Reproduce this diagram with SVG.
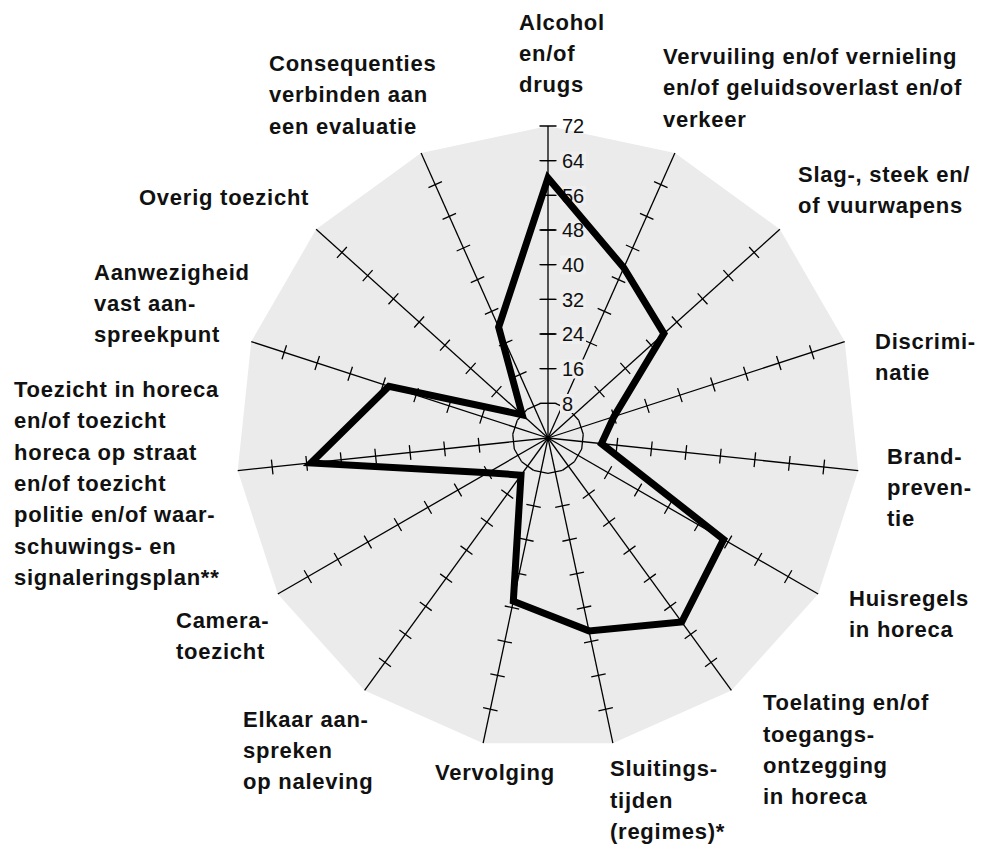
<svg xmlns="http://www.w3.org/2000/svg" xmlns:xlink="http://www.w3.org/1999/xlink" width="987" height="850" viewBox="0 0 987 850">
<style>
.lbl{font-family:"Liberation Sans",Arial,sans-serif;font-weight:bold;font-size:22px;letter-spacing:0.75px;fill:#111}
.num{font-family:"Liberation Sans",Arial,sans-serif;font-size:20px;fill:#111}
.ax{stroke:#000;stroke-width:1.3;fill:none}
.numbg{fill:#efefef}
.data{fill:none;stroke:#000;stroke-width:7;stroke-linejoin:miter;stroke-miterlimit:10}
</style>
<defs>
<g id="axis">
<line class="ax" x1="548" y1="438" x2="548" y2="126"/>
<path class="ax" d="M540.63 403.33H555.37M540.63 368.67H555.37M540.63 334H555.37M540.63 299.33H555.37M540.63 264.67H555.37M540.63 230H555.37M540.63 195.33H555.37M540.63 160.67H555.37"/>
</g>
</defs>
<rect width="987" height="850" fill="#fff"/>
<polygon id="background" fill="#ebebeb" points="548,126 674.90,152.97 779.86,229.23 844.73,341.59 858.29,470.61 818.20,594 731.39,690.41 612.87,743.18 483.13,743.18 364.61,690.41 277.80,594 237.71,470.61 251.27,341.59 316.14,229.23 421.10,152.97"/>
<g id="axes">
<use xlink:href="#axis"/>
<use xlink:href="#axis" transform="rotate(24 548 438)"/>
<use xlink:href="#axis" transform="rotate(48 548 438)"/>
<use xlink:href="#axis" transform="rotate(72 548 438)"/>
<use xlink:href="#axis" transform="rotate(96 548 438)"/>
<use xlink:href="#axis" transform="rotate(120 548 438)"/>
<use xlink:href="#axis" transform="rotate(144 548 438)"/>
<use xlink:href="#axis" transform="rotate(168 548 438)"/>
<use xlink:href="#axis" transform="rotate(192 548 438)"/>
<use xlink:href="#axis" transform="rotate(216 548 438)"/>
<use xlink:href="#axis" transform="rotate(240 548 438)"/>
<use xlink:href="#axis" transform="rotate(264 548 438)"/>
<use xlink:href="#axis" transform="rotate(288 548 438)"/>
<use xlink:href="#axis" transform="rotate(312 548 438)"/>
<use xlink:href="#axis" transform="rotate(336 548 438)"/>
<path class="ax" d="M539.5 403.33H556.5M539.5 368.67H556.5M539.5 334H556.5M539.5 299.33H556.5M539.5 264.67H556.5M539.5 230H556.5M539.5 195.33H556.5M539.5 160.67H556.5M539.5 126H556.5"/>
</g>
<g id="scale">
<rect class="numbg" x="560" y="394" width="14" height="19"/>
<rect class="numbg" x="560" y="359.5" width="26" height="19"/>
<rect class="numbg" x="560" y="325" width="26" height="19"/>
<rect class="numbg" x="560" y="290" width="26" height="19"/>
<rect class="numbg" x="560" y="255.5" width="26" height="19"/>
<rect class="numbg" x="560" y="221" width="26" height="19"/>
<rect class="numbg" x="560" y="186" width="26" height="19"/>
<rect class="numbg" x="560" y="151.5" width="26" height="19"/>
<text class="num" x="562" y="410.5">8</text>
<text class="num" x="562" y="375.8">16</text>
<text class="num" x="562" y="341.2">24</text>
<text class="num" x="562" y="306.5">32</text>
<text class="num" x="562" y="271.8">40</text>
<text class="num" x="562" y="237.2">48</text>
<text class="num" x="562" y="202.5">56</text>
<text class="num" x="562" y="167.8">64</text>
<text class="num" x="562" y="133.2">72</text>
</g>
<g id="connectors">
<polygon id="data" class="data" points="548,178 623.79,267.78 663.93,333.62 613.94,416.57 601.44,443.62 723.63,539.4 681.72,622.05 588.99,630.86 513.31,601.19 521.0,475.16 487.96,472.67 310.97,462.91 388.92,386.31 522.24,414.8 498.65,327.16"/>
</g>
<g id="n-alcohol"><text class="lbl" x="519" y="29.5">Alcohol</text><text class="lbl" x="519" y="61">en/of</text><text class="lbl" x="519" y="92">drugs</text></g>
<g id="n-vervuiling"><text class="lbl" x="663" y="63.5">Vervuiling en/of vernieling</text><text class="lbl" x="663" y="95">en/of geluidsoverlast en/of</text><text class="lbl" x="663" y="126.5">verkeer</text></g>
<g id="n-slag"><text class="lbl" x="798" y="181.5">Slag-, steek en/</text><text class="lbl" x="798" y="213">of vuurwapens</text></g>
<g id="n-discriminatie"><text class="lbl" x="875" y="348.5">Discrimi-</text><text class="lbl" x="875" y="379.5">natie</text></g>
<g id="n-brandpreventie"><text class="lbl" x="887" y="463.5">Brand-</text><text class="lbl" x="887" y="495">preven-</text><text class="lbl" x="887" y="526">tie</text></g>
<g id="n-huisregels"><text class="lbl" x="849" y="606">Huisregels</text><text class="lbl" x="849" y="637">in horeca</text></g>
<g id="n-toelating"><text class="lbl" x="763" y="710">Toelating en/of</text><text class="lbl" x="763" y="741.5">toegangs-</text><text class="lbl" x="763" y="773">ontzegging</text><text class="lbl" x="763" y="804">in horeca</text></g>
<g id="n-sluitingstijden"><text class="lbl" x="610" y="776">Sluitings-</text><text class="lbl" x="610" y="807.5">tijden</text><text class="lbl" x="610" y="838.5">(regimes)*</text></g>
<g id="n-vervolging"><text class="lbl" x="435" y="780">Vervolging</text></g>
<g id="n-elkaar"><text class="lbl" x="243" y="726.5">Elkaar aan-</text><text class="lbl" x="243" y="758">spreken</text><text class="lbl" x="243" y="789">op naleving</text></g>
<g id="n-camera"><text class="lbl" x="176" y="627.5">Camera-</text><text class="lbl" x="176" y="659">toezicht</text></g>
<g id="n-toezicht"><text class="lbl" x="14" y="396.7">Toezicht in horeca</text><text class="lbl" x="14" y="428.1">en/of toezicht</text><text class="lbl" x="14" y="459.5">horeca op straat</text><text class="lbl" x="14" y="490.9">en/of toezicht</text><text class="lbl" x="14" y="522.3">politie en/of waar-</text><text class="lbl" x="14" y="553.7">schuwings- en</text><text class="lbl" x="14" y="585.1">signaleringsplan**</text></g>
<g id="n-aanwezigheid"><text class="lbl" x="94" y="279.5">Aanwezigheid</text><text class="lbl" x="94" y="311">vast aan-</text><text class="lbl" x="94" y="342">spreekpunt</text></g>
<g id="n-overig"><text class="lbl" x="139" y="205">Overig toezicht</text></g>
<g id="n-consequenties"><text class="lbl" x="269" y="70.5">Consequenties</text><text class="lbl" x="269" y="102">verbinden aan</text><text class="lbl" x="269" y="133.5">een evaluatie</text></g>
</svg>
